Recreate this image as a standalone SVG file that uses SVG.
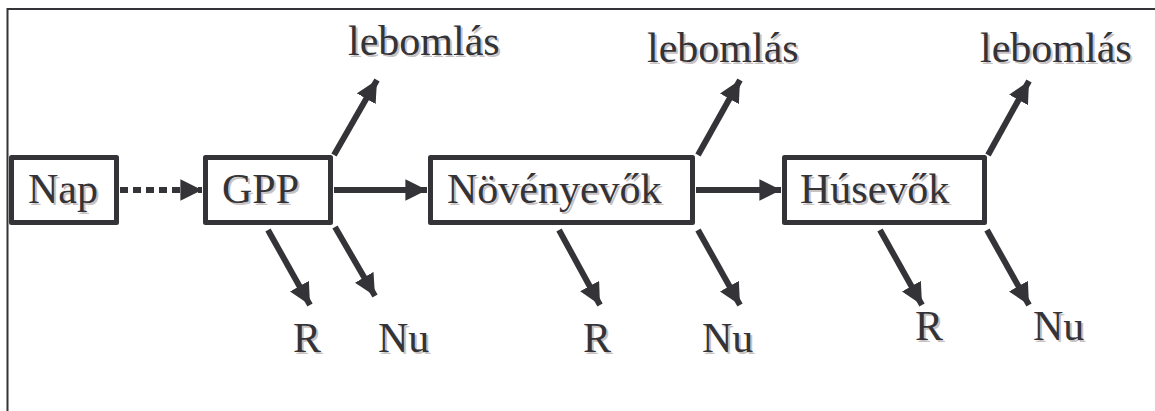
<svg xmlns="http://www.w3.org/2000/svg" width="1155" height="411" viewBox="0 0 1155 411">
<defs>
<style>
.box{fill:#fff;stroke:#333338;stroke-width:5;stroke-linejoin:round}
.ln{stroke:#333338;stroke-width:6;fill:none}
.dash{stroke:#333338;stroke-width:6;fill:none;stroke-dasharray:8 5}
.t{font-family:"Liberation Serif",serif;font-size:42px;fill:#333338}
.sh{font-family:"Liberation Serif",serif;font-size:42px;fill:#c9c2c2}
</style>
<marker id="ah" viewBox="0 0 10 10" refX="10" refY="5" markerWidth="3.6" markerHeight="3.6" markerUnits="strokeWidth" orient="auto">
<path d="M0,0 L10,5 L0,10 z" fill="#333338"/>
</marker>
</defs>
<rect width="1155" height="411" fill="#fff"/>
<path d="M7.5,411 V9 H1155" fill="none" stroke="#333338" stroke-width="2"/>
<g id="connectors">
<line class="dash" x1="120" y1="190" x2="202" y2="190" marker-end="url(#ah)"/>
<line class="ln" x1="334" y1="190" x2="427" y2="190" marker-end="url(#ah)"/>
<line class="ln" x1="696" y1="190" x2="781" y2="190" marker-end="url(#ah)"/>
<line class="ln" x1="334" y1="155" x2="377" y2="80" marker-end="url(#ah)"/>
<line class="ln" x1="268" y1="230" x2="310" y2="305" marker-end="url(#ah)"/>
<line class="ln" x1="335" y1="227" x2="375" y2="296" marker-end="url(#ah)"/>
<line class="ln" x1="698" y1="155" x2="740" y2="80" marker-end="url(#ah)"/>
<line class="ln" x1="559" y1="230" x2="600" y2="305" marker-end="url(#ah)"/>
<line class="ln" x1="698" y1="230" x2="740" y2="305" marker-end="url(#ah)"/>
<line class="ln" x1="988" y1="155" x2="1029" y2="81" marker-end="url(#ah)"/>
<line class="ln" x1="880" y1="230" x2="922" y2="305" marker-end="url(#ah)"/>
<line class="ln" x1="987" y1="230" x2="1029" y2="305" marker-end="url(#ah)"/>
</g>
<g id="nap">
<rect class="box" x="11.5" y="157.5" width="105" height="65"/>
<text class="sh" x="30" y="205">Nap</text><text class="t" x="28" y="203">Nap</text>
</g>
<g id="gpp">
<rect class="box" x="205.5" y="157.5" width="125" height="65"/>
<text class="sh" x="224" y="205">GPP</text><text class="t" x="222" y="203">GPP</text>
</g>
<g id="novenyevok">
<rect class="box" x="430.5" y="157.5" width="262" height="65"/>
<text class="sh" x="449" y="205">Növényevők</text><text class="t" x="447" y="203">Növényevők</text>
</g>
<g id="husevok">
<rect class="box" x="784.5" y="157.5" width="200" height="65"/>
<text class="sh" x="802" y="205">Húsevők</text><text class="t" x="800" y="203">Húsevők</text>
</g>
<g id="labels">
<text class="sh" x="350" y="57">lebomlás</text><text class="t" x="348" y="55">lebomlás</text>
<text class="sh" x="649" y="64">lebomlás</text><text class="t" x="647" y="62">lebomlás</text>
<text class="sh" x="982" y="64">lebomlás</text><text class="t" x="980" y="62">lebomlás</text>
<text class="sh" x="295" y="354">R</text><text class="t" x="293" y="352">R</text>
<text class="sh" x="380" y="354">Nu</text><text class="t" x="378" y="352">Nu</text>
<text class="sh" x="585" y="354">R</text><text class="t" x="583" y="352">R</text>
<text class="sh" x="704" y="354">Nu</text><text class="t" x="702" y="352">Nu</text>
<text class="sh" x="917" y="342">R</text><text class="t" x="915" y="340">R</text>
<text class="sh" x="1035" y="342">Nu</text><text class="t" x="1033" y="340">Nu</text>
</g>
</svg>
